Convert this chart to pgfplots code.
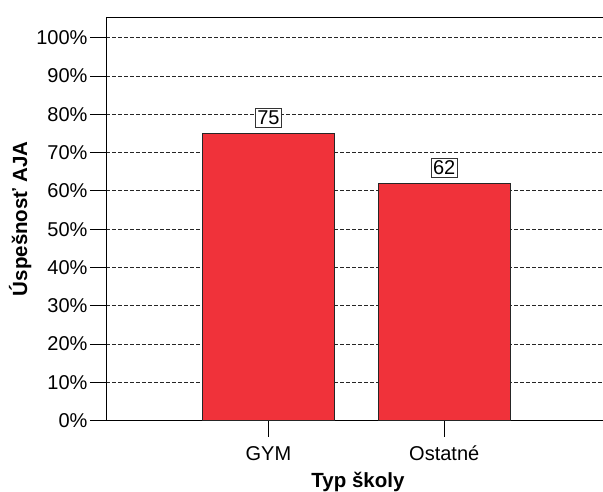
\documentclass[border=0pt]{standalone}
\usepackage{fontspec}
\setmainfont{Liberation Sans}
\usepackage{pgfplots}
\pgfplotsset{compat=1.18}
\definecolor{barred}{RGB}{240,50,58}

\begin{document}
\begin{tikzpicture}
\clip (0,0) rectangle (603pt,492pt);
\begin{axis}[
  at={(106pt,71.3pt)}, anchor=south west,
  scale only axis,
  width=504pt, height=403.7pt,
  ybar, bar width=131.5pt,
  xmin=-0.924, xmax=1.943,
  ymin=0, ymax=105.4,
  axis line style={black, line width=0.9pt},
  xtick pos=left, ytick pos=left,
  xtick={0,1}, xticklabels={GYM, Ostatné},
  ytick={0,10,...,100},
  yticklabel={\pgfmathprintnumber{\tick}\%},
  /pgf/number format/assume math mode=true,
  tick align=outside,
  major tick length=16pt,
  xtick style={draw=black, line width=0.8pt},
  major x tick style={draw=black, line width=0.8pt},
  ytick style={draw=black, line width=0.8pt},
  ymajorgrids,
  grid style={black!85, dash pattern=on 4pt off 2pt, line width=0.8pt},
  ticklabel style={font=\fontsize{20}{24}\selectfont},
  yticklabel style={xshift=1pt},
  xticklabel style={yshift=-6pt},
  xlabel={\textbf{Typ školy}},
  ylabel={\textbf{Úspešnosť AJA}},
  label style={font=\fontsize{20.5}{24}\selectfont},
  xlabel style={yshift=-4pt},
  ylabel style={yshift=-2pt},
  nodes near coords,
  every node near coord/.append style={draw=black!80, line width=0.7pt, fill=white,
    inner sep=2.2pt, anchor=south, yshift=6pt, font=\fontsize{20}{24}\selectfont},
]
\addplot[fill=barred, draw=black!85, line width=0.8pt] coordinates {(0,75) (1,62)};
\end{axis}
\end{tikzpicture}
\end{document}
